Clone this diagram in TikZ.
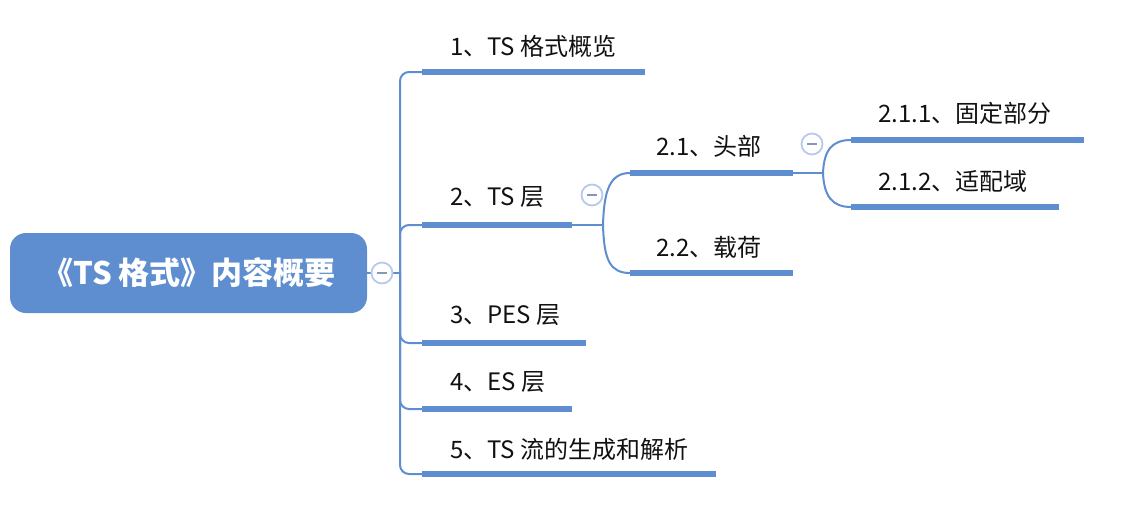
\documentclass[tikz,border=0pt]{standalone}
\usepackage{fontspec}
\setmainfont{Noto Sans CJK SC}
\definecolor{mmblue}{HTML}{5E8ED0}
\definecolor{iconring}{HTML}{B9C9EA}
\definecolor{iconbar}{HTML}{8A96B8}
\definecolor{txt}{HTML}{111111}
\begin{document}
\begin{tikzpicture}[x=1pt,y=-1pt,
  conn/.style={draw=mmblue,line width=2pt},
  bar/.style={draw=mmblue,line width=6pt},
  lbl/.style={anchor=west,inner sep=0pt,text=txt,font=\fontsize{24}{26}\selectfont},
  rootbox/.style={fill=mmblue,rounded corners=16pt},
  icon/.style={circle,draw=iconring,line width=1.8pt,fill=white,minimum size=21pt,inner sep=0pt}
]
\useasboundingbox (0,0) rectangle (1126,514);
% root
\fill[rootbox] (10,233) rectangle (367,313);
\node[text=white,font=\fontsize{31}{33}\selectfont\bfseries] (root) at (189,273) {《TS 格式》内容概要};
\coordinate (rootE) at (367,273);
\coordinate (j0) at (400,273);
% bars level 1
\coordinate (b1s) at (422,72);  \coordinate (b1e) at (645,72);
\coordinate (b2s) at (422,225); \coordinate (b2e) at (572,225);
\coordinate (b3s) at (422,343); \coordinate (b3e) at (586,343);
\coordinate (b4s) at (422,409); \coordinate (b4e) at (572,409);
\coordinate (b5s) at (422,474); \coordinate (b5e) at (716,474);
% level 2
\coordinate (j2) at (603,225);
\coordinate (b21s) at (630,173); \coordinate (b21e) at (793,173);
\coordinate (b22s) at (630,273); \coordinate (b22e) at (793,273);
% level 3
\coordinate (j3) at (823,173);
\coordinate (b211s) at (851,140); \coordinate (b211e) at (1084,140);
\coordinate (b212s) at (851,207); \coordinate (b212e) at (1059,207);

% connectors
\draw[conn] (rootE) -- (j0);
\foreach \b in {b1s,b2s,b3s,b4s,b5s}{\draw[conn,rounded corners=9pt] (j0) |- (\b);}
\draw[conn] (b2e) -- (j2);
\draw[conn] (j2) .. controls (604,190) and (610,173) .. (b21s);
\draw[conn] (j2) .. controls (604,260) and (610,273) .. (b22s);
\draw[conn] (b21e) -- (j3);
\draw[conn] (j3) .. controls (824,150) and (832,140) .. (b211s);
\draw[conn] (j3) .. controls (824,196) and (832,207) .. (b212s);

% bars
\foreach \a/\b in {b1s/b1e,b2s/b2e,b3s/b3e,b4s/b4e,b5s/b5e,b21s/b21e,b22s/b22e,b211s/b211e,b212s/b212e}{\draw[bar] (\a) -- (\b);}

% icons
\node[icon] (ic0) at (382,273) {};
\node[icon] (ic2) at (592,195) {};
\node[icon] (ic21) at (812,144) {};
\foreach \i in {ic0,ic2,ic21}{\draw[iconbar,line width=1.8pt] ([xshift=-5pt]\i.center) -- ([xshift=5pt]\i.center);}

% labels
\node[lbl] (t1) at (450,46) {1、TS 格式概览};
\node[lbl] (t2) at (450,197) {2、TS 层};
\node[lbl] (t3) at (450,315) {3、PES 层};
\node[lbl] (t4) at (450,382) {4、ES 层};
\node[lbl] (t5) at (450,449) {5、TS 流的生成和解析};
\node[lbl] (t21) at (656,146) {2.1、头部};
\node[lbl] (t22) at (656,247) {2.2、载荷};
\node[lbl] (t211) at (878,113) {2.1.1、固定部分};
\node[lbl] (t212) at (878,181) {2.1.2、适配域};
\end{tikzpicture}
\end{document}
